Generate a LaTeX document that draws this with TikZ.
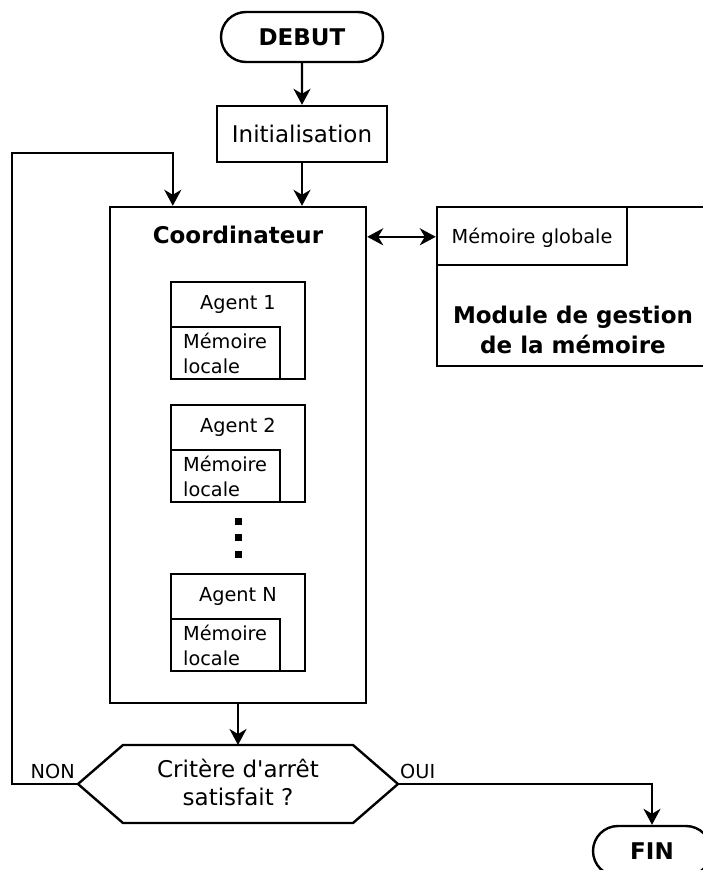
\documentclass[tikz,border=0pt]{standalone}
\usepackage{fontspec}
\setmainfont{DejaVu Sans}
\usetikzlibrary{shapes.misc,arrows.meta}
\tikzset{
  ln/.style={line width=2.4pt},
  box/.style={ln, draw, fill=white, rectangle, inner sep=0pt},
  term/.style={ln, draw, fill=white, rounded rectangle, inner sep=0pt},
  big/.style={font=\fontsize{23}{28.5}\selectfont, inner sep=0pt},
  bigb/.style={font=\fontsize{23}{28.5}\selectfont\bfseries, inner sep=0pt},
  small/.style={font=\fontsize{19.3}{24}\selectfont, inner sep=0pt},
  tip/.tip={Stealth[length=16pt,width=17pt,inset=5pt]},
  arr/.style={ln, -tip},
  dblarr/.style={ln, tip-tip},
}
\begin{document}
\begin{tikzpicture}[x=1pt,y=-1pt]
\useasboundingbox (0,0) rectangle (703,870);
\fill[white] (0,0) rectangle (703,870);
\clip (0,0) rectangle (703,870);

% DEBUT and Initialisation
\node[term, minimum width=162pt, minimum height=50pt, bigb] (debut) at (302,37) {DEBUT};
\node[box, minimum width=170pt, minimum height=56pt, big] (init) at (302,134) {Initialisation};

% Coordinateur
\node[box, minimum width=256pt, minimum height=496pt] (coord) at (238,455) {};
\node[bigb, anchor=base] (coordlbl) at (238,243.5) {Coordinateur};

% Memory management module
\node[box, minimum width=272pt, minimum height=159pt] (module) at (573,286.5) {};
\node[box, minimum width=190pt, minimum height=58pt] (mglob) at (532,236) {};
\node[small, anchor=base] (mglobl) at (532,243) {Mémoire globale};
\node[bigb, anchor=base] (mod1) at (573,323.3) {Module de gestion};
\node[bigb, anchor=base] (mod2) at (573,353.3) {de la mémoire};

% Agents
\foreach \n/\lab/\t in {a1/1/282, a2/2/405, aN/N/574} {
  \node[box, minimum width=134pt, minimum height=97pt] (\n) at (238,\t+48.5) {};
  \node[small, anchor=base] (\n lbl) at (238,\t+27) {Agent \lab};
  \node[box, anchor=south west, minimum width=109pt, minimum height=52pt] (\n m) at (\n.south west) {};
  \node[small, anchor=base west] (\n m1) at (183,\t+66) {Mémoire};
  \node[small, anchor=base west] (\n m2) at (183,\t+91) {locale};
}

% vertical dots
\foreach \y in {521,537.5,554} {
  \fill (234.5,\y-3.5) rectangle ++(7,7);
}

% Decision hexagon
\coordinate (hexL) at (78,784);
\coordinate (hexR) at (398,784);
\coordinate (hexT) at (238,745);
\draw[ln, fill=white] (hexL) -- (123,745) -- (353,745) -- (hexR) -- (353,823) -- (123,823) -- cycle;
\node[big, anchor=base] (crit1) at (238,777) {Critère d\textquotesingle arrêt};
\node[big, anchor=base] (crit2) at (238,805) {satisfait ?};
\node[small, anchor=base east] (non) at (75,778) {NON};
\node[small, anchor=base west] (oui) at (400,778) {OUI};

% FIN
\node[term, minimum width=118pt, minimum height=50pt, bigb] (fin) at (652,851) {FIN};

% Connectors
\draw[arr] (debut) -- (init);
\draw[arr] (init) -- (init |- coord.north);
\coordinate (dbl) at ([yshift=-31pt]coord.north east);
\draw[dblarr] (dbl) -- (dbl -| mglob.west);
\draw[arr] (coord.south) -- (hexT);
\coordinate (loopin) at ([xshift=64pt]coord.north west);
\draw[arr] (hexL) -| (12,153) -| (loopin);
\draw[arr] (hexR) -| (fin.north);
\end{tikzpicture}
\end{document}
